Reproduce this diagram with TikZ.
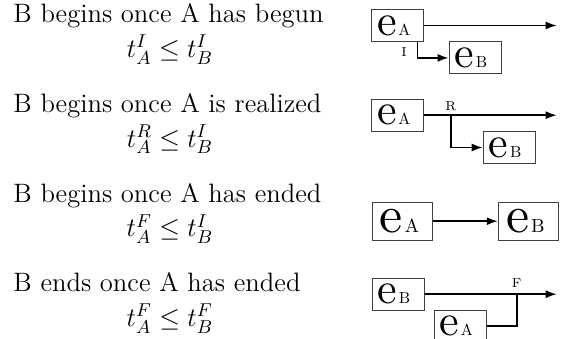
\RequirePackage{fix-cm}
\documentclass[tikz,border=0pt]{standalone}
\usepackage{fontspec}
\newfontfamily\efont{lmroman10-regular.otf}
\usetikzlibrary{arrows.meta}
\newcommand\evlab[1]{{\efont\fontsize{22}{22}\selectfont e}\kern0.8pt{\efont\fontsize{8}{8}\selectfont #1}\kern4pt}
\newcommand\evlabL[1]{{\efont\fontsize{26}{26}\selectfont e}\kern1pt{\efont\fontsize{9.5}{10}\selectfont #1}\kern3pt}
\begin{document}
\begin{tikzpicture}[x=0.5pt,y=-0.5pt,
  evt/.style={draw=black!75, line width=0.5pt, inner sep=0pt, minimum width=26pt, minimum height=16pt},
  evtL/.style={evt, minimum width=30pt, minimum height=19pt},
  conn/.style={line width=0.8pt, -{Latex[length=5.5pt,width=4pt]}},
  plain/.style={line width=0.8pt},
  lbl/.style={font=\fontsize{6.5}{7}\selectfont, inner sep=0pt},
  desc/.style={anchor=base west, inner sep=0pt, font=\fontsize{13.3}{16}\selectfont},
  rel/.style={anchor=base, inner sep=0pt, font=\fontsize{13.3}{16}\selectfont}]
\useasboundingbox (0,0) rectangle (571,338);
\clip (0,0) rectangle (571,338);

% left column
\node[desc] (d1) at (13,22.7) {B begins once A has begun};
\node[rel]  (r1) at (170,57.5) {$t_A^I \le t_B^I$};
\node[desc] (d2) at (13,112.5) {B begins once A is realized};
\node[rel]  (r2) at (170,147.3) {$t_A^R \le t_B^I$};
\node[desc] (d3) at (13,202) {B begins once A has ended};
\node[rel]  (r3) at (170,236.8) {$t_A^F \le t_B^I$};
\node[desc] (d4) at (13,291.7) {B ends once A has ended};
\node[rel]  (r4) at (170,326.5) {$t_A^F \le t_B^F$};

% row 1
\node[evt] (a1) at (397.9,25.5) {\evlab{A}};
\node[evt] (b1) at (475,57.9) {\evlab{B}};
\coordinate (e1) at (556.7,25.5);
\coordinate (k1) at (417.3,57.9);
\draw[conn] (a1.east) -- (e1);
\draw[conn] (a1.south -| k1) -- (k1) -- (b1.west);
\node[lbl] (i1) at (404,51.7) {I};

% row 2
\node[evt] (a2) at (397.9,115.2) {\evlab{A}};
\node[evt] (b2) at (509.2,147.5) {\evlab{B}};
\coordinate (e2) at (556.7,115.2);
\coordinate (k2) at (450.7,115.2);
\draw[conn] (a2.east) -- (e2);
\draw[conn] (k2) |- (b2.west);
\node[lbl] (l2) at (450.7,106) {R};

% row 3
\node[evtL] (a3) at (402.5,221.2) {\evlabL{A}};
\node[evtL] (b3) at (528.3,221.2) {\evlabL{B}};
\draw[conn] (a3) -- (b3);

% row 4
\node[evt] (b4) at (398,294.2) {\evlab{B}};
\node[evt] (a4) at (460.3,326) {\evlab{A}};
\coordinate (e4) at (556.7,294.2);
\coordinate (k4) at (516.7,294.2);
\draw[conn] (b4.east) -- (e4);
\draw[plain] (a4.east) -| (k4);
\node[lbl] (l4) at (516.7,283) {F};
\end{tikzpicture}
\end{document}
